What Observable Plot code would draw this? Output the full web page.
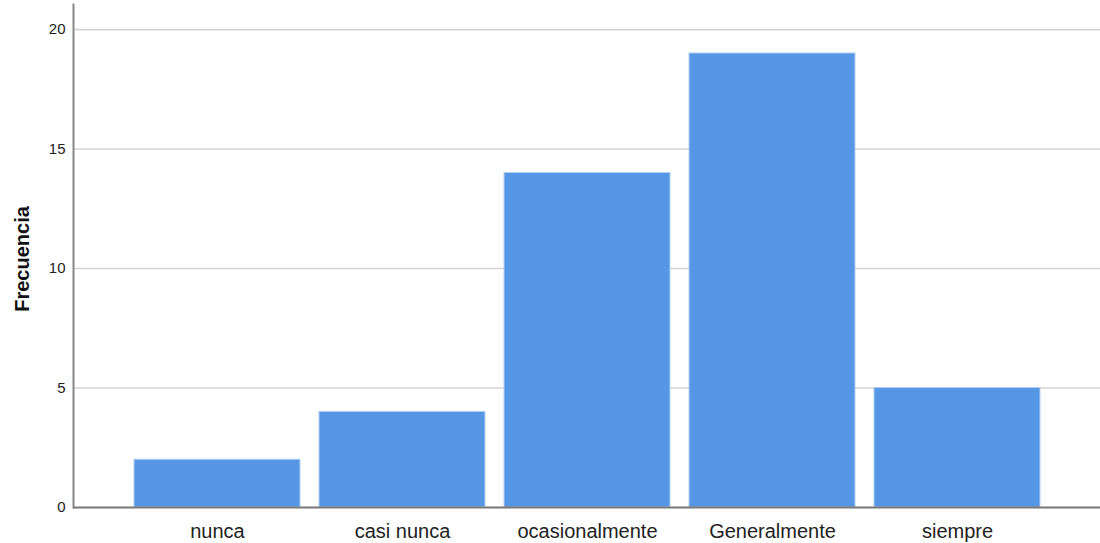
<!DOCTYPE html>
<html>
<head>
<meta charset="utf-8">
<script src="https://cdn.jsdelivr.net/npm/d3@7"></script>
<script src="https://cdn.jsdelivr.net/npm/@observablehq/plot@0.6"></script>
<style>
  html, body { margin: 0; padding: 0; background: #fff; }
  #chart svg { display: block; }
</style>
</head>
<body>
<div id="chart"></div>
<script>
const categories = ["nunca", "casi nunca", "ocasionalmente", "Generalmente", "siempre"];
const frequencies = [2, 4, 14, 19, 5];
const yTicks = [0, 5, 10, 15, 20];
const gridTicks = [5, 10, 15, 20];
const yLabel = "Frecuencia";

const data = categories.map((c, i) => ({category: c, value: frequencies[i]}));

const chart = Plot.plot({
  width: 1100,
  height: 543,
  marginLeft: 73,
  marginRight: 0,
  marginTop: 4,
  marginBottom: 36,
  style: {fontFamily: "'Liberation Sans', Arial, sans-serif", background: "#fff"},
  x: {domain: categories, paddingInner: 0.105, paddingOuter: 0.32, label: null},
  y: {domain: [0, 21.05], label: null},
  marks: [
    Plot.ruleY(gridTicks, {stroke: "#d4d4d4", strokeWidth: 1.6}),
    Plot.barY(data, {x: "category", y: "value", fill: "#5597e4", stroke: "#b3cff2", strokeWidth: 1}),
    Plot.frame({anchor: "left", stroke: "#888", strokeWidth: 2}),
    Plot.ruleY([0], {stroke: "#777", strokeWidth: 2}),
    Plot.axisY({ticks: yTicks, tickSize: 0, tickPadding: 8, fontSize: 15, color: "#222", label: null}),
    Plot.axisX({tickSize: 0, tickPadding: 16, fontSize: 20, color: "#222", label: null}),
    Plot.text([yLabel], {frameAnchor: "left", dx: -51, dy: 3, rotate: -90, textAnchor: "middle", fontSize: 20, fontWeight: "bold", fill: "#111"})
  ]
});
document.getElementById("chart").appendChild(chart);
</script>
</body>
</html>
